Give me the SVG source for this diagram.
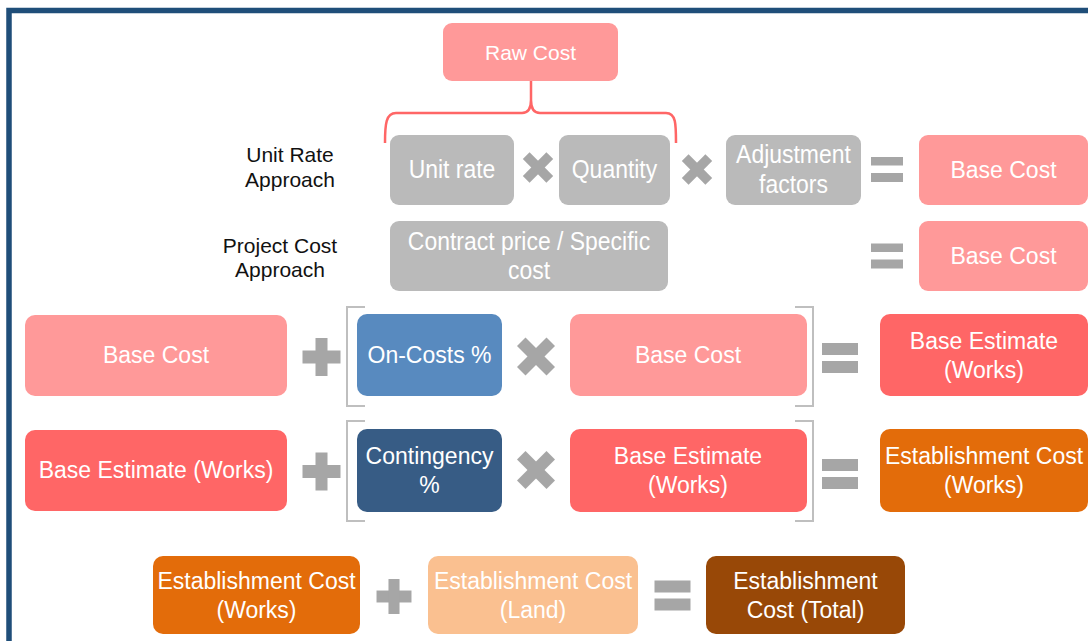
<svg xmlns="http://www.w3.org/2000/svg" width="1088" height="641" viewBox="0 0 1088 641">
  <style>
    .box { stroke: none; }
    .gray { fill: #bababa; }
    .pink { fill: #ff9999; }
    .red { fill: #ff6666; }
    .blue { fill: #588abf; }
    .navy { fill: #375c85; }
    .orange { fill: #e36c0a; }
    .peach { fill: #fac090; }
    .brown { fill: #984807; }
    .t { font-family: "Liberation Sans", Arial, sans-serif; font-size: 23px; fill: #ffffff; text-anchor: middle; }
    .tc { font-size: 25.5px; }
    .lbl { font-family: "Liberation Sans", Arial, sans-serif; font-size: 21px; fill: #111111; text-anchor: middle; }
    .op { fill: #a6a6a6; }
    .brk { fill: none; stroke: #bfbfbf; stroke-width: 2; }
    .brace { fill: none; stroke: #ff6666; stroke-width: 2.5; stroke-linejoin: round; }
  </style>
  <defs>
    <!-- operator glyphs, centred on the origin, 38px across -->
    <g id="times">
      <rect x="-20.85" y="-6" width="41.7" height="12" transform="rotate(45)"/>
      <rect x="-20.85" y="-6" width="41.7" height="12" transform="rotate(-45)"/>
    </g>
    <g id="plus">
      <rect x="-19" y="-6.5" width="38" height="13"/>
      <rect x="-6" y="-19" width="12" height="38"/>
    </g>
    <g id="equals">
      <rect x="-18" y="-15" width="36" height="12"/>
      <rect x="-18" y="3" width="36" height="12"/>
    </g>
    <g id="equals-sm">
      <rect x="-16" y="-12.5" width="32" height="8.5"/>
      <rect x="-16" y="3.5" width="32" height="9"/>
    </g>
  </defs>

  <rect width="1088" height="641" fill="#ffffff"/>
  <!-- outer frame -->
  <rect x="9" y="10.5" width="1100" height="660" fill="none" stroke="#1f4e79" stroke-width="5.5"/>

  <!-- row labels -->
  <g id="label-unit-rate">
    <text class="lbl" x="290" y="162">Unit Rate</text>
    <text class="lbl" x="290" y="187">Approach</text>
  </g>
  <g id="label-project-cost">
    <text class="lbl" x="280" y="253">Project Cost</text>
    <text class="lbl" x="280" y="277">Approach</text>
  </g>

  <!-- connectors: brace and brackets -->
  <g id="connectors">
    <path class="brace" d="M385,143 C385,124 386,113 396,113 L522,113 C529,113 531,108 531,100 L531,81 M531,100 C531,108 533,113 540,113 L666,113 C676,113 676,124 676,143"/>
    <path class="brk" d="M365,307 L347,307 L347,406 L365,406"/>
    <path class="brk" d="M795,307 L813,307 L813,406 L795,406"/>
    <path class="brk" d="M365,421 L347,421 L347,521 L365,521"/>
    <path class="brk" d="M795,421 L813,421 L813,521 L795,521"/>
  </g>

  <!-- operators -->
  <g id="operators" class="op">
    <use href="#times" transform="translate(538,167.5) scale(0.8)"/>
    <use href="#times" transform="translate(697,169.5) scale(0.8)"/>
    <use href="#equals-sm" transform="translate(887,169.5)"/>
    <use href="#equals-sm" transform="translate(887,256)"/>
    <use href="#plus" transform="translate(321.5,357)"/>
    <use href="#times" transform="translate(536,356.5)"/>
    <use href="#equals" transform="translate(840,358)"/>
    <use href="#plus" transform="translate(321.5,471.5)"/>
    <use href="#times" transform="translate(536,470)"/>
    <use href="#equals" transform="translate(840,474)"/>
    <use href="#plus" transform="translate(394,596.5) scale(0.92)"/>
    <use href="#equals" transform="translate(672.5,595.5)"/>
  </g>

  <!-- top -->
  <g id="raw-cost">
    <rect class="box pink" x="443" y="23" width="175" height="58" rx="9"/>
    <text class="t" x="530.5" y="60" style="font-size:21px">Raw Cost</text>
  </g>

  <!-- unit rate approach (grey labels set slightly condensed) -->
  <g id="unit-rate">
    <rect class="box gray" x="390" y="135" width="124" height="70" rx="9"/>
    <text class="t tc" x="452" y="178" transform="matrix(0.9 0 0 1 45.2 0)">Unit rate</text>
  </g>
  <g id="quantity">
    <rect class="box gray" x="559" y="135" width="111" height="70" rx="9"/>
    <text class="t tc" x="614.5" y="178" transform="matrix(0.9 0 0 1 61.45 0)">Quantity</text>
  </g>
  <g id="adjustment-factors">
    <rect class="box gray" x="726" y="135" width="135" height="70" rx="9"/>
    <g transform="matrix(0.9 0 0 1 79.35 0)">
      <text class="t tc" x="793.5" y="163.5">Adjustment</text>
      <text class="t tc" x="793.5" y="193">factors</text>
    </g>
  </g>
  <g id="base-cost-unit">
    <rect class="box pink" x="919" y="135" width="169" height="70" rx="9"/>
    <text class="t" x="1003.5" y="178">Base Cost</text>
  </g>

  <!-- project cost approach -->
  <g id="contract-price">
    <rect class="box gray" x="390" y="221" width="278" height="70" rx="9"/>
    <g transform="matrix(0.9 0 0 1 52.9 0)">
      <text class="t tc" x="529" y="250">Contract price / Specific</text>
      <text class="t tc" x="529" y="279">cost</text>
    </g>
  </g>
  <g id="base-cost-project">
    <rect class="box pink" x="919" y="221" width="169" height="70" rx="9"/>
    <text class="t" x="1003.5" y="264">Base Cost</text>
  </g>

  <!-- base estimate -->
  <g id="base-cost-a">
    <rect class="box pink" x="25" y="315" width="262" height="81" rx="10"/>
    <text class="t" x="156" y="363">Base Cost</text>
  </g>
  <g id="on-costs">
    <rect class="box blue" x="357" y="314" width="145" height="82" rx="10"/>
    <text class="t" x="429.5" y="363">On-Costs %</text>
  </g>
  <g id="base-cost-b">
    <rect class="box pink" x="570" y="314" width="237" height="82" rx="10"/>
    <text class="t" x="688" y="363">Base Cost</text>
  </g>
  <g id="base-estimate-result">
    <rect class="box red" x="880" y="314" width="208" height="82" rx="10"/>
    <text class="t" x="984" y="349">Base Estimate</text>
    <text class="t" x="984" y="378">(Works)</text>
  </g>

  <!-- establishment cost (works) -->
  <g id="base-estimate-a">
    <rect class="box red" x="25" y="430" width="262" height="81" rx="10"/>
    <text class="t" x="156" y="478">Base Estimate (Works)</text>
  </g>
  <g id="contingency">
    <rect class="box navy" x="357" y="429" width="145" height="83" rx="10"/>
    <text class="t" x="429.5" y="464">Contingency</text>
    <text class="t" x="429.5" y="493">%</text>
  </g>
  <g id="base-estimate-b">
    <rect class="box red" x="570" y="429" width="237" height="83" rx="10"/>
    <text class="t" x="688" y="464">Base Estimate</text>
    <text class="t" x="688" y="493">(Works)</text>
  </g>
  <g id="establishment-works-result">
    <rect class="box orange" x="880" y="429" width="208" height="83" rx="10"/>
    <text class="t" x="984" y="464">Establishment Cost</text>
    <text class="t" x="984" y="493">(Works)</text>
  </g>

  <!-- establishment cost (total) -->
  <g id="establishment-works">
    <rect class="box orange" x="153" y="556" width="207" height="78" rx="10"/>
    <text class="t" x="256.5" y="589">Establishment Cost</text>
    <text class="t" x="256.5" y="618">(Works)</text>
  </g>
  <g id="establishment-land">
    <rect class="box peach" x="428" y="556" width="210" height="78" rx="10"/>
    <text class="t" x="533" y="589">Establishment Cost</text>
    <text class="t" x="533" y="618">(Land)</text>
  </g>
  <g id="establishment-total">
    <rect class="box brown" x="706" y="556" width="199" height="78" rx="10"/>
    <text class="t" x="805.5" y="589">Establishment</text>
    <text class="t" x="805.5" y="618">Cost (Total)</text>
  </g>
</svg>
